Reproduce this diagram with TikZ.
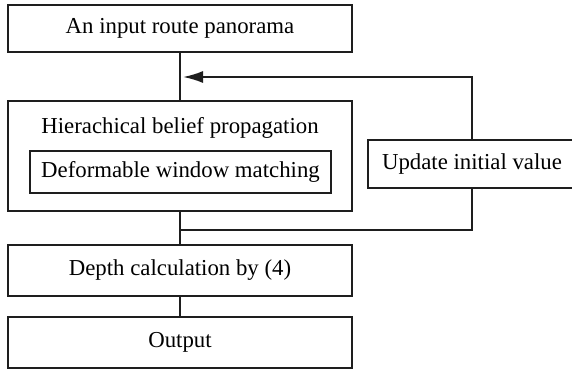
\documentclass[tikz,border=0pt]{standalone}
\usepackage{fontspec}
\setmainfont{Liberation Serif}
\usepackage{tikz}
\usetikzlibrary{positioning,arrows.meta}
\usepackage{xcolor}
\definecolor{linec}{RGB}{30,30,30}
\tikzset{
  box/.style={draw=linec, line width=1pt, outer sep=0pt, inner sep=0pt, align=center, minimum width=172pt, minimum height=25.5pt, font=\fontsize{11.4}{13}\selectfont},
  inbox/.style={box, minimum width=150.5pt, minimum height=21pt},
  plain/.style={inner sep=0pt, outer sep=0pt, font=\fontsize{11.4}{13}\selectfont},
  link/.style={draw=linec, line width=1pt},
  flow/.style={link, -{Latex[length=10pt, width=6pt]}, shorten >=1.5pt}
}

\begin{document}
\begin{tikzpicture}[x=0.5pt, y=0.5pt]
  \useasboundingbox (0,0) rectangle (572,-374);

  \node[box, minimum height=23.5pt, anchor=north west] (pano) at (8,-5) {An input route panorama};
  \node[box, minimum height=55pt, anchor=north west] (hbp) at (8,-101) {};
  \node[plain] (hbpt) at (180,-128) {Hierachical belief propagation};
  \node[inbox, anchor=north west] (dwm) at (30,-151) {Deformable window matching};
  \node[box, minimum width=104pt, minimum height=24pt, anchor=north west] (upd) at (368,-140) {Update initial value};
  \node[box, anchor=north west] (depth) at (8,-245) {Depth calculation by (4)};
  \node[box, anchor=north west] (out) at (8,-317) {Output};

  \coordinate (fb) at (180,-77);
  \coordinate (mg) at (180,-230);

  \draw[link] (pano) -- (hbp);
  \draw[flow] (upd.north) |- (fb);
  \draw[link] (hbp) -- (depth);
  \draw[link] (upd.south) |- (mg);
  \draw[link] (depth) -- (out);
\end{tikzpicture}
\end{document}
